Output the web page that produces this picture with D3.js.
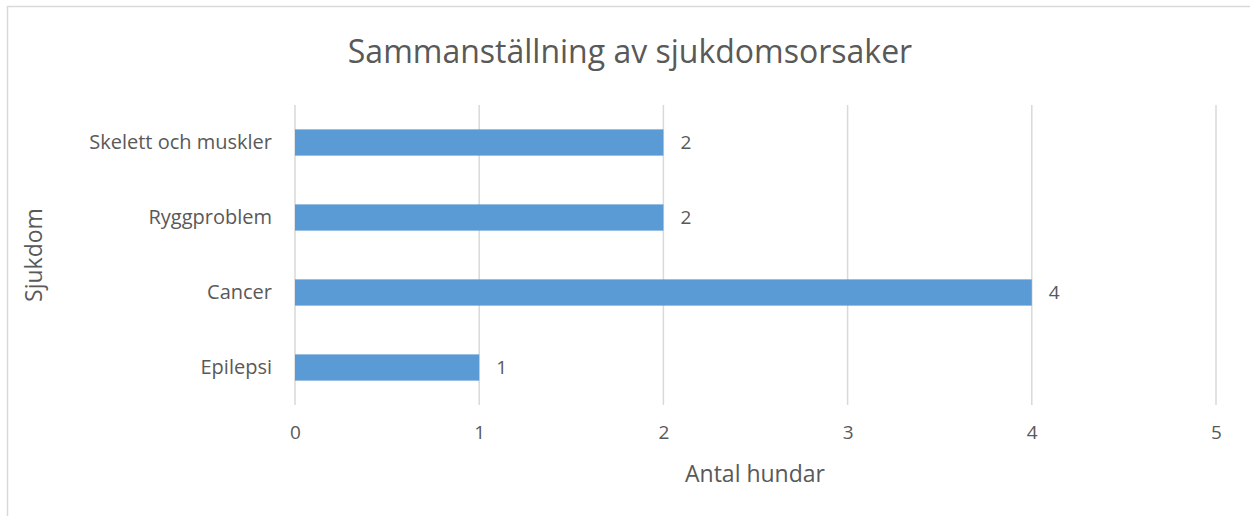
<!DOCTYPE html>
<html>
<head>
<meta charset="utf-8">
<script src="https://cdn.jsdelivr.net/npm/d3@7"></script>
<style>
  body { margin: 0; background: #fff; }
  text { font-family: "Open Sans", sans-serif; fill: #595959; }
</style>
</head>
<body>
<div id="chart"></div>
<script>
// data
var categories = ["Skelett och muskler", "Ryggproblem", "Cancer", "Epilepsi"];
var values = [2, 2, 4, 1];
var xTicks = [0, 1, 2, 3, 4, 5];

var baseWidth = 1250, baseHeight = 516;
var margin = {top: 105, right: 34, bottom: 111, left: 295},
    width = baseWidth - margin.left - margin.right,
    height = baseHeight - margin.top - margin.bottom;

var root = d3.select("#chart")
    .append("svg")
    .attr("width", baseWidth)
    .attr("height", baseHeight);

// chart frame
root.append("rect")
    .attr("x", 7.5).attr("y", 6.5)
    .attr("width", baseWidth + 10).attr("height", baseHeight + 10)
    .style("fill", "#fff")
    .style("stroke", "#d9d9d9")
    .style("stroke-width", 1.5);

var svg = root.append("g")
    .attr("transform", "translate(" + margin.left + "," + margin.top + ")");

var x = d3.scaleLinear().domain([0, 5]).range([0, width]);
var y = d3.scaleBand().domain(categories).range([0, height]).paddingInner(0.65).paddingOuter(0.325);

// gridlines
svg.selectAll("line.grid")
    .data(xTicks)
    .enter().append("line")
    .attr("x1", d => x(d)).attr("x2", d => x(d))
    .attr("y1", 0).attr("y2", height)
    .style("stroke", "#d9d9d9")
    .style("stroke-width", 1.5);

// bars
svg.selectAll("rect.bar")
    .data(values)
    .enter().append("rect")
    .attr("x", x(0))
    .attr("y", (d, i) => y(categories[i]))
    .attr("width", d => x(d) - x(0))
    .attr("height", y.bandwidth())
    .style("fill", "#5b9bd5");

// data labels
svg.selectAll("text.val")
    .data(values)
    .enter().append("text")
    .attr("x", d => x(d) + 17)
    .attr("y", (d, i) => y(categories[i]) + y.bandwidth() / 2)
    .attr("dy", "0.35em")
    .style("font-size", "19px")
    .text(d => d);

// category labels
var yAxis = svg.append("g").call(d3.axisLeft(y).tickSize(0).tickPadding(23));
yAxis.select(".domain").remove();
yAxis.selectAll("text").style("font-size", "20px").style("fill", "#595959").style("font-family", "'Open Sans', sans-serif");

// x tick labels
var xAxis = svg.append("g")
    .attr("transform", "translate(0," + height + ")")
    .call(d3.axisBottom(x).tickValues(xTicks).tickSize(0).tickPadding(21).tickFormat(d3.format("d")));
xAxis.select(".domain").remove();
xAxis.selectAll("text").style("font-size", "19px").style("fill", "#595959").style("font-family", "'Open Sans', sans-serif");

// title
root.append("text")
    .attr("text-anchor", "middle")
    .attr("x", 630)
    .attr("y", 63)
    .style("font-size", "32px")
    .text("Sammanställning av sjukdomsorsaker");

// axis titles
root.append("text")
    .attr("text-anchor", "middle")
    .attr("x", 755)
    .attr("y", 482)
    .style("font-size", "23px")
    .text("Antal hundar");

root.append("text")
    .attr("text-anchor", "middle")
    .attr("transform", "rotate(-90)")
    .attr("x", -255)
    .attr("y", 42)
    .style("font-size", "23px")
    .text("Sjukdom");
</script>
</body>
</html>
